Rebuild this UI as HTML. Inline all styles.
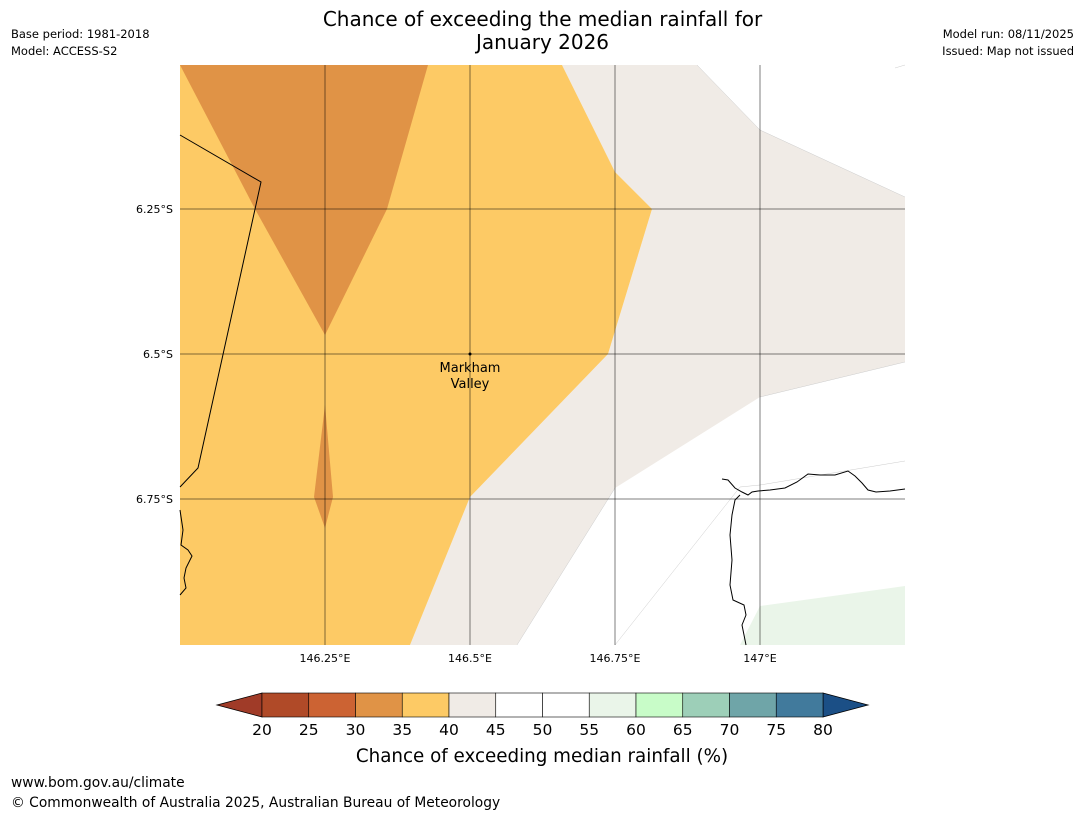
<!DOCTYPE html>
<html><head><meta charset="utf-8">
<style>
body{margin:0;background:#fff;font-family:"Liberation Sans","DejaVu Sans",sans-serif;}
#wrap{position:relative;width:1085px;height:816px;overflow:hidden;background:#fff;}
.t{position:absolute;color:#000;white-space:nowrap;}
</style></head>
<body>
<div id="wrap">
<div class="t" style="left:0;width:1085px;top:8px;text-align:center;font-size:20px;line-height:23px;font-family:'DejaVu Sans',sans-serif">Chance of exceeding the median rainfall for<br>January 2026</div>
<div class="t" style="left:11px;top:27px;font-size:11.5px;font-family:'DejaVu Sans',sans-serif">Base period: 1981-2018</div>
<div class="t" style="left:11px;top:44px;font-size:11.5px;font-family:'DejaVu Sans',sans-serif">Model: ACCESS-S2</div>
<div class="t" style="right:11px;top:27px;font-size:11.5px;font-family:'DejaVu Sans',sans-serif">Model run: 08/11/2025</div>
<div class="t" style="right:11px;top:44px;font-size:11.5px;font-family:'DejaVu Sans',sans-serif">Issued: Map not issued</div>
<div class="t" style="left:11px;top:775px;font-size:13.8px;font-family:'DejaVu Sans',sans-serif">www.bom.gov.au/climate</div>
<div class="t" style="left:11px;top:795px;font-size:13.8px;font-family:'DejaVu Sans',sans-serif">© Commonwealth of Australia 2025, Australian Bureau of Meteorology</div>
<svg id="svg" width="1085" height="816" style="position:absolute;left:0;top:0" font-family="DejaVu Sans, sans-serif"></svg>
</div>
<script>
const lonTicks=[146.25,146.5,146.75,147];
const lonLabels=["146.25°E","146.5°E","146.75°E","147°E"];
const latTicks=[6.25,6.5,6.75];
const latLabels=["6.25°S","6.5°S","6.75°S"];
const cbTicks=[20,25,30,35,40,45,50,55,60,65,70,75,80];
const cbColors=["#b04a28","#cc6333","#e09346","#fdca65","#f0ebe6","#ffffff","#ffffff","#eaf5e9","#c8fcc8","#9dcfb8","#6fa5a8","#417a9c"];
const NS="http://www.w3.org/2000/svg";
const svg=document.getElementById('svg');
const X0=180,X1=905,Y0=65,Y1=645;
const lonX=l=>325+(l-146.25)*580;
const latY=l=>209+(l-6.25)*580;
function mk(t,a,p){const e=document.createElementNS(NS,t);for(const k in a)e.setAttribute(k,a[k]);(p||svg).appendChild(e);return e;}
const map=mk('g',{});


mk('rect',{x:X0,y:Y0,width:X1-X0,height:Y1-Y0,fill:'#fff'},map);
const beige=mk('polygon',{points:"562,65 697,65 760,130 905,197 905,362 760,397 615,488 517,645 410,645 470,497 608,354 652,209 615,172",fill:'#f0ebe6'},map);


const orng=mk('polygon',{points:"180,65 562,65 615,172 652,209 608,354 470,497 410,645 180,645",fill:'#fdca65'},map);


const dk=mk('polygon',{points:"180,65 428,65 387,209 325,335 255,209",fill:'#e09346'},map);


mk('polygon',{points:"325,405 333,497 325,528 314,497",fill:'#e09346'},map);
const gr=mk('polygon',{points:"760,606 905,586 905,645 740,645",fill:'#eaf5e9'},map);


mk('polyline',{points:"697,65 760,130 905,197",fill:'none',stroke:'#ccc','stroke-width':0.5},map);
mk('polyline',{points:"760,397 905,362",fill:'none',stroke:'#ccc','stroke-width':0.5},map);
mk('polyline',{points:"615,488 517,645",fill:'none',stroke:'#ccc','stroke-width':0.5},map);
mk('polyline',{points:"740,487 760,485 905,461",fill:'none',stroke:'#ccc','stroke-width':0.5},map);
mk('polyline',{points:"740,487 615,645",fill:'none',stroke:'#ccc','stroke-width':0.5},map);
mk('polyline',{points:"905,65 895,68",fill:'none',stroke:'#ccc','stroke-width':0.5},map);
lonTicks.forEach((l,i)=>{const x=lonX(l);
 const g=mk('line',{x1:x,x2:x,y1:Y0,y2:Y1,stroke:'#000','stroke-opacity':0.5,'stroke-width':1});
 
 const t=mk('text',{x:x,y:Y1+17,'text-anchor':'middle','font-size':11});t.textContent=lonLabels[i];
 });
latTicks.forEach((l,i)=>{const y=latY(l);
 const g=mk('line',{x1:X0,x2:X1,y1:y,y2:y,stroke:'#000','stroke-opacity':0.5,'stroke-width':1});
 
 const t=mk('text',{x:X0-7,y:y+4,'text-anchor':'end','font-size':11});t.textContent=latLabels[i];
 });
const cs=mk('g',{fill:'none',stroke:'#000','stroke-width':1});

mk('polyline',{points:"180,135 261,182 198,468 180,487"},cs);
mk('polyline',{points:"180,510 183,530 181,545 188,550 192,556 186,568 184,578 186,588 180,595"},cs);
mk('polyline',{points:"722,479 728,480 735,488 742,492 748,495 752,492 758,491 770,490 785,488 797,482 808,474 820,475 835,475 848,471 855,476 862,483 868,490 876,492 890,491 905,489"},cs);
mk('polyline',{points:"740,495 735,500 732,515 730,535 732,560 730,585 733,600 744,605 746,615 742,625 746,645"},cs);
mk('circle',{cx:470,cy:354,r:1.5,fill:'#000'});
const tn=mk('text',{x:470,y:372,'text-anchor':'middle','font-size':13});tn.textContent='Markham';

const tn2=mk('text',{x:470,y:388,'text-anchor':'middle','font-size':13});tn2.textContent='Valley';
const CB0=262,CB1=823,CY=693,CH=24;
const cbx=v=>CB0+(v-20)/60*(CB1-CB0);
const cb=mk('g',{});
mk('polygon',{points:`${CB0},${CY} ${CB0},${CY+CH} 217,${CY+CH/2}`,fill:'#a03b28',stroke:'#000','stroke-width':0.8},cb);
mk('polygon',{points:`${CB1},${CY} ${CB1},${CY+CH} 868,${CY+CH/2}`,fill:'#1b4f86',stroke:'#000','stroke-width':0.8},cb);
cbColors.forEach((c,i)=>{const r=mk('rect',{x:cbx(cbTicks[i]),y:CY,width:cbx(cbTicks[i+1])-cbx(cbTicks[i]),height:CH,fill:c,stroke:'#000','stroke-width':0.6},cb);
 });
cbTicks.forEach(v=>{const t=mk('text',{x:cbx(v),y:735,'text-anchor':'middle','font-size':15.5},cb);t.textContent=v;
 });
const ct=mk('text',{x:542,y:762,'text-anchor':'middle','font-size':18.3});ct.textContent='Chance of exceeding median rainfall (%)';

</script>
</body></html>
